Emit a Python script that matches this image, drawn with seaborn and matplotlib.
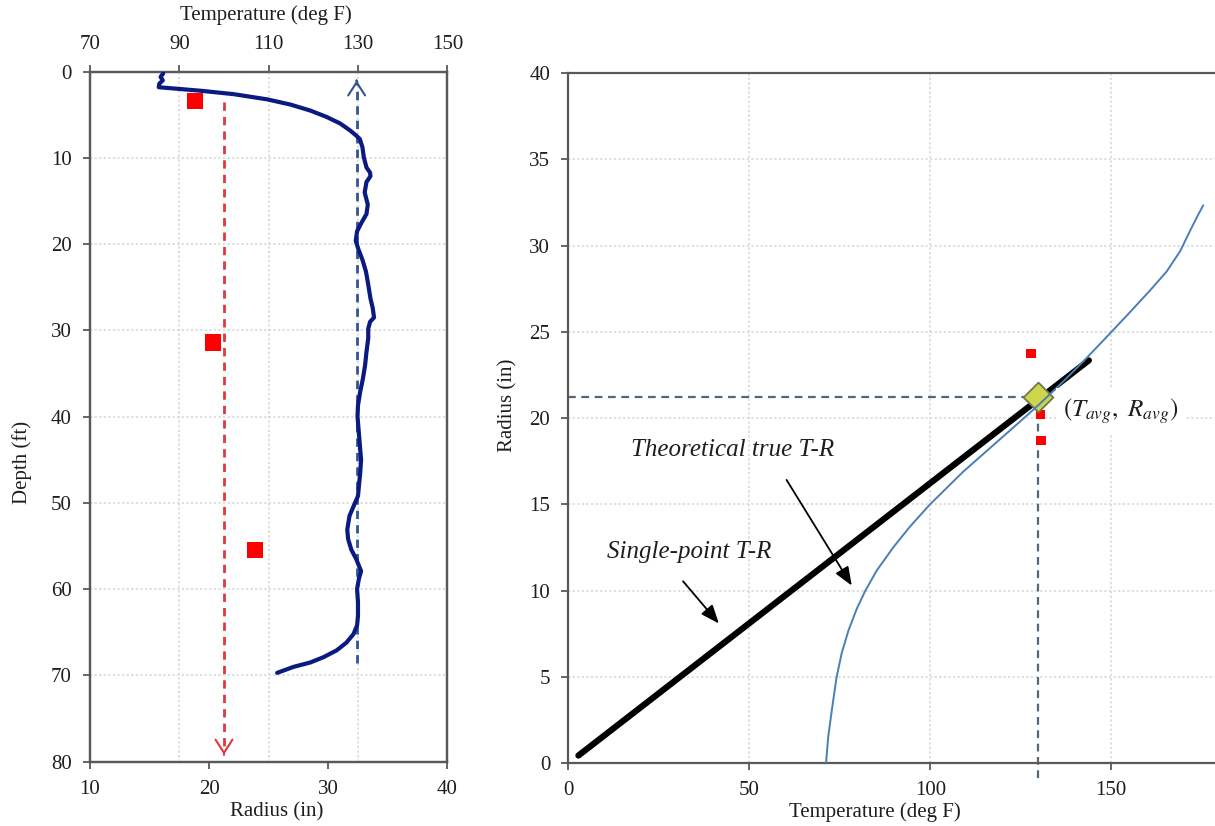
import matplotlib
matplotlib.use("Agg")
import matplotlib.pyplot as plt
import numpy as np
import pandas as pd
import seaborn as sns

# ---------------- data ----------------
# Temperature log along the shaft (left panel, top axis)
DEPTH_FT = [0.2, 0.6, 1.0, 1.4, 1.8, 2.2, 2.6, 3.2, 3.8, 4.5, 5.25, 6.0, 6.8, 7.4,
            7.8, 8.75, 9.9, 11.1, 11.7, 12.1, 12.8, 14.0, 14.6, 15.4, 16.5, 17.5,
            18.5, 19.6, 20.6, 21.8, 23.2, 24.7, 26.3, 27.4, 28.5, 29.0, 29.8, 30.9,
            32.5, 34.0, 35.6, 37.1, 38.7, 40.0, 41.9, 43.8, 45.0, 46.5, 48.1, 49.2,
            50.4, 51.5, 53.1, 54.2, 55.4, 56.5, 57.9, 58.8, 60.0, 61.5, 63.1, 64.2,
            65.2, 66.2, 67.1, 67.9, 68.5, 69.0, 69.7]
TEMP_F = [86.4, 85.8, 86.3, 85.5, 85.4, 94.6, 102.1, 109.6, 114.8, 119.3, 123.0,
          126.0, 128.2, 129.6, 130.4, 131.0, 131.3, 131.9, 132.7, 132.8, 131.9,
          131.5, 131.8, 132.2, 131.9, 130.8, 129.8, 129.5, 130.1, 131.0, 131.8,
          132.3, 132.8, 133.3, 133.6, 132.7, 132.3, 132.3, 131.9, 131.6, 131.1,
          130.5, 130.0, 129.9, 130.2, 130.5, 130.7, 130.5, 130.2, 130.0, 129.0,
          128.1, 127.6, 127.8, 128.5, 129.6, 130.7, 130.2, 129.8, 130.0, 130.0,
          129.8, 129.0, 127.4, 125.2, 122.2, 119.3, 115.6, 111.9]

# Caliper radius measurements (left panel, bottom axis)
CALIPER_RADIUS_IN = [18.8, 20.35, 23.85]
CALIPER_DEPTH_FT = [3.35, 31.4, 55.45]

# Average temperature and radius
T_AVG = 129.7
R_AVG = 21.25

# Theoretical temperature-radius relation (right panel)
THEORY_T = [71.2, 71.8, 72.8, 74.1, 75.5, 77.4, 79.7, 82.0, 85.2, 89.8, 94.4,
            99.9, 109.1, 118.3, 125.7, 130.3, 136.7, 143.2, 149.6, 155.2, 160.7,
            165.3, 169.0, 171.7, 174.0, 175.4]
THEORY_R = [0.0, 1.54, 3.08, 4.97, 6.36, 7.7, 8.96, 9.98, 11.17, 12.52, 13.72,
            15.0, 16.9, 18.6, 19.97, 20.84, 22.12, 23.49, 24.9, 26.15, 27.4,
            28.5, 29.67, 30.83, 31.79, 32.33]

# Single-point T-R line
SINGLE_T = [2.8, 143.8]
SINGLE_R = [0.45, 23.35]

# Measured T-R pairs (right panel)
MEAS_T = [127.8, 130.4, 130.6]
MEAS_R = [23.76, 20.2, 18.7]

# ---------------- style ----------------
sns.set_theme(style="white")
plt.rcParams["font.family"] = ["Liberation Serif", "DejaVu Serif"]
plt.rcParams["mathtext.fontset"] = "stix"

SPINE = "#595959"
GRID = "#d6d6d6"
TXT = "#1e1e1e"
FS = 15

W, H = 1215, 826
fig = plt.figure(figsize=(W / 100, H / 100), dpi=100)
fig.patch.set_facecolor("white")

axL = fig.add_axes([90 / W, 1 - 761.7 / H, 357.3 / W, 690 / H])
axT = axL.twiny()
axR = fig.add_axes([568.3 / W, 1 - 763.3 / H, 646.7 / W, 690.3 / H])


def style_ax(ax):
    for s in ax.spines.values():
        s.set_color(SPINE)
        s.set_linewidth(1.6)
    ax.tick_params(direction="out", length=5, width=1.3, color=SPINE,
                   labelsize=FS, labelcolor=TXT, pad=8)
    ax.set_axisbelow(True)


grid_kw = dict(color=GRID, linestyle=(0, (1.5, 1.5)), linewidth=1.1)

# ---------------- left panel ----------------
style_ax(axL)
style_ax(axT)
axL.set_xlim(10, 40)
axL.set_xticks([10, 20, 30, 40])
axL.set_ylim(80, 0)
axL.set_yticks(range(0, 81, 10))
axL.tick_params(axis="x", bottom=True, top=False)
axL.tick_params(axis="y", left=True, right=False)
axL.yaxis.grid(True, **grid_kw)
axL.xaxis.grid(False)

axT.set_xlim(70, 150)
axT.set_xticks(range(70, 151, 20))
axT.tick_params(axis="x", top=True, bottom=False)
axT.xaxis.grid(True, **grid_kw)
axT.yaxis.grid(False)

log_df = pd.DataFrame({"temp": TEMP_F, "depth": DEPTH_FT})
sns.lineplot(data=log_df, x="temp", y="depth", sort=False, estimator=None,
             color="#0a1a80", linewidth=3, ax=axT, zorder=4)

# average temperature guide (upward arrow)
axT.plot([T_AVG, T_AVG], [68.5, 1.3], color="#34558f", linewidth=2,
         dashes=(3, 2.2), zorder=3)
axT.annotate("", xy=(T_AVG, 1.0), xytext=(T_AVG, 1.05),
             arrowprops=dict(arrowstyle="->,head_length=0.5,head_width=0.32",
                             mutation_scale=19, color="#34558f", lw=1.5,
                             shrinkA=0, shrinkB=0))

# average radius guide (downward arrow)
axL.plot([R_AVG, R_AVG], [3.5, 78.8], color="#e0383c", linewidth=2,
         dashes=(3, 2.2), zorder=3)
axL.annotate("", xy=(R_AVG, 79.2), xytext=(R_AVG, 79.15),
             arrowprops=dict(arrowstyle="->,head_length=0.5,head_width=0.32",
                             mutation_scale=19, color="#e0383c", lw=1.5,
                             shrinkA=0, shrinkB=0))

sns.scatterplot(x=CALIPER_RADIUS_IN, y=CALIPER_DEPTH_FT, marker="s", s=135,
                color="#ff0000", edgecolor="none", ax=axL, zorder=5)

axL.set_xlabel("Radius (in)", fontsize=FS, color=TXT, va="center")
axL.xaxis.set_label_coords(0.5226, -0.0725)
axL.set_ylabel("Depth (ft)", fontsize=FS, color=TXT, va="center")
axL.yaxis.set_label_coords(-0.191, 0.433)
axT.set_xlabel("Temperature (deg F)", fontsize=FS, color=TXT, va="center")
axT.xaxis.set_label_coords(0.4926, 1.082)

# ---------------- right panel ----------------
style_ax(axR)
axR.spines["right"].set_visible(False)
axR.set_xlim(0, 178.65)
axR.set_xticks([0, 50, 100, 150])
axR.set_ylim(0, 40)
axR.set_yticks(range(0, 41, 5))
axR.tick_params(axis="x", bottom=True, top=False)
axR.tick_params(axis="y", left=True, right=False)
axR.grid(True, **grid_kw)

sns.lineplot(x=SINGLE_T, y=SINGLE_R, color="black", linewidth=4.5,
             solid_capstyle="round", ax=axR, zorder=3)
sns.lineplot(x=THEORY_T, y=THEORY_R, sort=False, estimator=None,
             color="#4a7fb5", linewidth=1.4, ax=axR, zorder=6)

axR.plot([0, T_AVG], [R_AVG, R_AVG], color="#52687a", linewidth=1.6,
         dashes=(3.5, 2.5), zorder=2)
axR.plot([T_AVG, T_AVG], [R_AVG, -1.0], color="#52687a", linewidth=1.6,
         dashes=(3.5, 2.5), zorder=2, clip_on=False)

sns.scatterplot(x=MEAS_T, y=MEAS_R, marker="s", s=45, color="#ff0000",
                edgecolor="none", ax=axR, zorder=4)
sns.scatterplot(x=[T_AVG], y=[R_AVG], marker="D", s=230, color="#cdd64b",
                edgecolor="#6e7750", linewidth=1.3, ax=axR, zorder=5)

axR.text(136.7, 20.1, r"$(T_{avg},\ R_{avg})$", fontsize=18, color=TXT,
         ha="left", va="baseline", zorder=7,
         bbox=dict(boxstyle="square,pad=0.3", fc="white", ec="none"))

axR.text(45.4, 17.8, "Theoretical true T-R", fontsize=18, style="italic",
         color=TXT, ha="center", va="baseline", zorder=7)
axR.text(33.4, 11.87, "Single-point T-R", fontsize=18, style="italic",
         color=TXT, ha="center", va="baseline", zorder=7)

arrow_kw = dict(arrowstyle="-|>,head_length=0.75,head_width=0.3",
                mutation_scale=15, color="black", lw=1.3,
                shrinkA=0, shrinkB=0)
axR.annotate("", xy=(78.3, 10.3), xytext=(60.3, 16.42), arrowprops=arrow_kw,
             zorder=7)
axR.annotate("", xy=(41.6, 8.1), xytext=(31.7, 10.55), arrowprops=arrow_kw,
             zorder=7)

axR.set_xlabel("Temperature (deg F)", fontsize=FS, color=TXT, va="center")
axR.xaxis.set_label_coords(0.4743, -0.0705)
axR.set_ylabel("Radius (in)", fontsize=FS, color=TXT, va="center")
axR.yaxis.set_label_coords(-0.0932, 0.519)

for ax in (axL, axT, axR):
    if ax.get_legend() is not None:
        ax.get_legend().remove()

fig.savefig("out.png", dpi=100, facecolor="white")
